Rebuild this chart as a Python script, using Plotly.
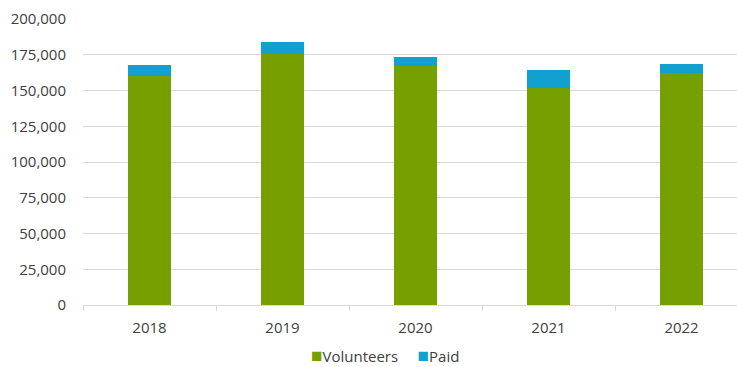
import plotly.graph_objects as go

years = ["2018", "2019", "2020", "2021", "2022"]
volunteers = [160000, 175500, 166900, 151600, 162300]
paid = [7600, 8100, 6800, 13000, 6500]
y_ticks = [0, 25000, 50000, 75000, 100000, 125000, 150000, 175000, 200000]
series_names = ["Volunteers", "Paid"]

GREEN = "#76A000"
BLUE = "#12A0CF"
TXT = "#404040"
FONT = "Open Sans"
FS = 15

xpos = list(range(len(years)))

fig = go.Figure()
fig.add_trace(go.Bar(x=xpos, y=volunteers, name=series_names[0], marker_color=GREEN,
                     marker_line_width=0, width=0.32))
fig.add_trace(go.Bar(x=xpos, y=paid, name=series_names[1], marker_color=BLUE,
                     marker_line_width=0, width=0.32))

legend_html = (
    f"<span style='color:{GREEN};font-size:19px'>■</span>{series_names[0]}"
    f"&nbsp;&nbsp;&nbsp;&nbsp;&nbsp;<span style='color:{BLUE};font-size:19px'>■</span>{series_names[1]}"
)

fig.update_layout(
    width=737, height=367,
    margin=dict(l=83, r=0, t=18.5, b=61.5),
    barmode="stack",
    plot_bgcolor="white", paper_bgcolor="white",
    font=dict(family=FONT, size=FS, color=TXT),
    showlegend=False,
    annotations=[dict(
        text=legend_html, xref="paper", yref="paper",
        x=(385 - 83) / 654, xanchor="center",
        y=-(356 - 305.5) / 286.5, yanchor="middle",
        showarrow=False, font=dict(family=FONT, size=FS, color=TXT),
    )],
    xaxis=dict(
        range=[-0.5, 4.417],
        tickvals=xpos, ticktext=years,
        ticks="outside", ticklen=9, tickcolor="rgba(0,0,0,0)",
        showgrid=False, zeroline=False,
        showline=True, linecolor="#D9D9D9", linewidth=1,
        tickfont=dict(family=FONT, size=FS, color=TXT),
        minor=dict(tickvals=[-0.5, 0.5, 1.5, 2.5, 3.5], ticks="outside",
                   ticklen=5, tickcolor="#D9D9D9", showgrid=False),
    ),
    yaxis=dict(
        range=[0, 200000],
        tickvals=y_ticks, tickformat=",d",
        showgrid=True, gridcolor="#D9D9D9", gridwidth=1,
        zeroline=False, showline=False, ticks="outside", ticklen=13,
        tickcolor="rgba(0,0,0,0)",
        tickfont=dict(family=FONT, size=FS, color=TXT),
    ),
)

fig.write_html("out.html")
